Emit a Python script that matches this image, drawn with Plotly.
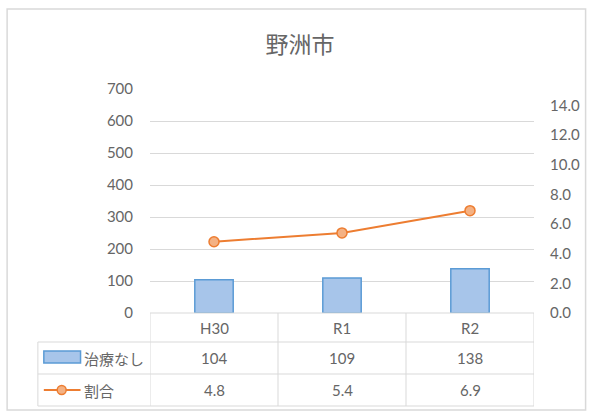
import plotly.graph_objects as go

categories = ["H30", "R1", "R2"]
untreated = [104, 109, 138]
ratio = [4.8, 5.4, 6.9]
series_names = ["治療なし", "割合"]
title_text = "野洲市"
left_ticks = [0, 100, 200, 300, 400, 500, 600, 700]
right_ticks = [0, 2, 4, 6, 8, 10, 12, 14]

W, H = 592, 412
PL, PR, PT, PB = 150, 537, 89, 313  # plot area in px
pw, ph = PR - PL, PB - PT

def px(x):
    return (x - PL) / pw

def py(y):
    return (PB - y) / ph

GRAY = "#666666"
LINE = "#D9D9D9"
NUMFONT = "Lato, Noto Sans CJK JP, sans-serif"
JPFONT = "Noto Sans CJK JP, sans-serif"

fig = go.Figure()
fig.add_trace(go.Bar(
    x=categories, y=untreated, name=series_names[0], width=0.3,
    marker=dict(color="#A7C5EA", line=dict(color="#5B9BD5", width=1.5)),
    yaxis="y",
))
fig.add_trace(go.Scatter(
    x=categories, y=ratio, name=series_names[1], mode="lines+markers",
    line=dict(color="#ED7D31", width=2),
    marker=dict(size=10, color="#F4B183", line=dict(color="#ED7D31", width=1.5)),
    yaxis="y2",
))

shapes = []
annotations = []

# chart border
shapes.append(dict(type="rect", xref="paper", yref="paper",
                   x0=px(6), x1=px(589), y0=py(410), y1=py(9),
                   line=dict(color=LINE, width=1.5), layer="below"))

# table rows (px y)
row_lines = [313, 342, 374, 406]
shapes.append(dict(type="line", xref="paper", yref="paper",
                   x0=px(PL), x1=px(PR), y0=py(313), y1=py(313),
                   line=dict(color=LINE, width=1)))
for yy in row_lines[1:]:
    shapes.append(dict(type="line", xref="paper", yref="paper",
                       x0=px(37), x1=px(PR), y0=py(yy), y1=py(yy),
                       line=dict(color=LINE, width=1)))
for i in range(len(categories) + 1):
    shapes.append(dict(type="line", xref="x", yref="paper",
                       x0=i - 0.5, x1=i - 0.5, y0=py(313), y1=py(406),
                       line=dict(color=LINE, width=1)))
shapes.append(dict(type="line", xref="paper", yref="paper",
                   x0=px(37), x1=px(37), y0=py(342), y1=py(406),
                   line=dict(color=LINE, width=1)))

row_centers = [(row_lines[k] + row_lines[k + 1]) / 2 for k in range(3)]

def cell(x, xref, y, text, font, xanchor="center"):
    return dict(x=x, xref=xref, y=y, yref="paper", text=text, showarrow=False,
                xanchor=xanchor, yanchor="middle", font=font)

numf = dict(family=NUMFONT, size=15, color=GRAY)
for i, c in enumerate(categories):
    annotations.append(cell(c, "x", py(row_centers[0]), c, numf))
    annotations.append(cell(c, "x", py(row_centers[1]), str(untreated[i]), numf))
    annotations.append(cell(c, "x", py(row_centers[2]), f"{ratio[i]:.1f}", numf))

# legend keys
shapes.append(dict(type="rect", xref="paper", yref="paper",
                   x0=px(43), x1=px(80), y0=py(363), y1=py(351),
                   fillcolor="#A7C5EA", line=dict(color="#5B9BD5", width=1.5)))
shapes.append(dict(type="line", xref="paper", yref="paper",
                   x0=px(43), x1=px(80), y0=py(390), y1=py(390),
                   line=dict(color="#ED7D31", width=2)))
shapes.append(dict(type="circle", xref="paper", yref="paper",
                   x0=px(56.5), x1=px(65.5), y0=py(394.5), y1=py(385.5),
                   fillcolor="#F4B183", line=dict(color="#ED7D31", width=1.5)))
for k, name in enumerate(series_names):
    annotations.append(cell(px(81), "paper", py(row_centers[k + 1]), name,
                            dict(family=JPFONT, size=15, color=GRAY), xanchor="left"))

fig.update_layout(
    width=W, height=H,
    margin=dict(l=PL, r=W - PR, t=PT, b=H - PB, pad=0),
    paper_bgcolor="white", plot_bgcolor="white",
    showlegend=False,
    title=dict(text=title_text, x=300 / W, xanchor="center", y=1 - 45 / H, yanchor="middle",
               font=dict(family=JPFONT, size=23, color=GRAY)),
    xaxis=dict(type="category", range=[-0.5, 2.5], showticklabels=False,
               showgrid=False, zeroline=False, showline=False, ticks=""),
    yaxis=dict(range=[0, 700], tickvals=left_ticks, showgrid=True, gridcolor=LINE,
               gridwidth=1, zeroline=False, showline=False,
               ticks="outside", ticklen=13, tickcolor="rgba(0,0,0,0)",
               tickfont=dict(family=NUMFONT, size=15, color=GRAY)),
    yaxis2=dict(range=[0, 15.1], tickvals=right_ticks, tickformat=".1f",
                overlaying="y", side="right", showgrid=False, zeroline=False,
                showline=False, ticks="outside", ticklen=12, tickcolor="rgba(0,0,0,0)",
                tickfont=dict(family=NUMFONT, size=15, color=GRAY)),
    shapes=shapes, annotations=annotations,
)

fig.write_html("out.html", config={"displayModeBar": False},
               post_script="document.body.style.margin='0';")
